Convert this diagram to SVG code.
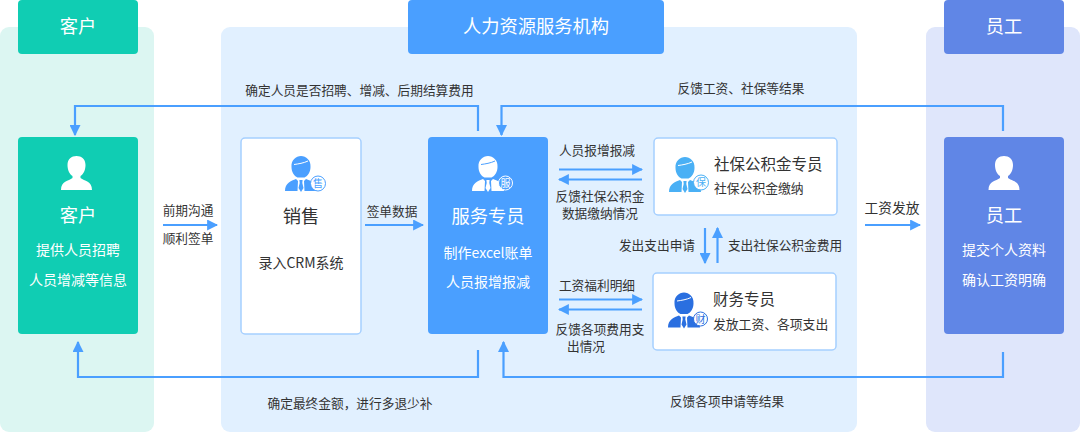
<svg xmlns="http://www.w3.org/2000/svg" xmlns:xlink="http://www.w3.org/1999/xlink" width="1080" height="432" viewBox="0 0 1080 432">
<style>
text{font-family:"Noto Sans CJK SC","Liberation Sans",sans-serif;text-anchor:middle}
.l{font-size:12.700px;fill:#333}
.w14{font-size:14px;fill:#fff}
.w18{font-size:18.300px;fill:#fff}
.c{fill:none;stroke:#4a9fff;stroke-width:2.200}
.t{font-size:15.500px;fill:#333;text-anchor:start}
.s{font-size:12.800px;fill:#333;text-anchor:start}
.b{font-size:10px;text-anchor:middle}
</style>
<defs>
<marker id="a" viewBox="0 0 10 10" refX="9" refY="5" markerWidth="5" markerHeight="5" orient="auto"><path d="M0 0L10 5L0 10z" fill="#4a9fff"/></marker>
<g id="person"><path d="M-9 -14C-9 -20 -5 -23 0 -23C5 -23 9 -20 9 -14C9 -9 7 -5 4 -3V-1C8 2 15.500 2 15.500 11H-15.500C-15.500 2 -8 2 -4 -1V-3C-7 -5 -9 -9 -9 -14z"/></g>
<g id="agent"><path stroke="none" d="M-9.500 -13C-10 -20 -5 -24 0 -24C5 -24 10 -20 9.500 -13C9.500 -8 7 -4 3.500 -2.500H-3.500C-7 -4 -9.500 -8 -9.500 -13z"/><path stroke="none" d="M-16 11C-16 3 -10 1 -5 -1L-3 1L-3.500 11z"/><path stroke="none" d="M16 11C16 3 10 1 5 -1L3 1L3.500 11z"/><path stroke="none" d="M-1.600 0H1.600L1.300 3L2.500 8L0 12L-2.500 8L-1.300 3z"/><path fill="none" stroke-width="1" d="M-7 -15.500C-3 -16 3 -17 7 -19"/></g>
</defs>
<g id="panels">
<rect x="0" y="27" width="154" height="405" rx="9" fill="#dcf6f2"/>
<rect x="221" y="27" width="636" height="405" rx="9" fill="#e1f0ff"/>
<rect x="926" y="27" width="154" height="405" rx="9" fill="#dfe6fb"/>
</g>
<g id="connectors">
<path class="c" marker-end="url(#a)" d="M478 131V106H75V135"/>
<path class="c" marker-end="url(#a)" d="M1003 131V106H501.500V135"/>
<path class="c" marker-end="url(#a)" d="M478 350V377H78V342"/>
<path class="c" marker-end="url(#a)" d="M1003 352V377H503.500V342"/>
<path class="c" marker-end="url(#a)" d="M163 225H217"/>
<path class="c" marker-end="url(#a)" d="M365 225H423"/>
<path class="c" marker-end="url(#a)" d="M559 169.500H642"/>
<path class="c" marker-end="url(#a)" d="M642 179.500H559"/>
<path class="c" marker-end="url(#a)" d="M559 299.500H642"/>
<path class="c" marker-end="url(#a)" d="M642 309.500H559"/>
<path class="c" marker-end="url(#a)" d="M705 228V263"/>
<path class="c" marker-end="url(#a)" d="M717.500 263V228"/>
<path class="c" marker-end="url(#a)" d="M865 225H920"/>
</g>
<g id="header-customer"><rect x="18" y="0" width="120" height="54" rx="4" fill="#10cdb3"/><text class="w18" x="78" y="33">客户</text></g>
<g id="header-agency"><rect x="408" y="0" width="256" height="54" rx="4" fill="#4a9fff"/><text class="w18" x="536" y="33">人力资源服务机构</text></g>
<g id="header-employee"><rect x="944" y="0" width="120" height="54" rx="4" fill="#6086e6"/><text class="w18" x="1004" y="33">员工</text></g>
<g id="node-customer"><rect x="18" y="137" width="120" height="197" rx="4" fill="#10cdb3"/>
<use xlink:href="#person" href="#person" x="76.500" y="179" fill="#fff"/>
<text class="w18" x="78" y="222">客户</text>
<text class="w14" x="78" y="255">提供人员招聘</text><text class="w14" x="78" y="285">人员增减等信息</text></g>
<g id="node-sales"><rect x="241" y="138" width="120" height="196" rx="4" fill="#fff" stroke="#a5cfff" stroke-width="1.500"/>
<use xlink:href="#agent" href="#agent" x="301" y="180" fill="#4a9fff" stroke="#fff"/>
<circle cx="318" cy="183.500" r="7.500" fill="#fff" stroke="#4a9fff"/><text class="b" x="318" y="187" fill="#4a9fff">售</text>
<text x="301" y="223" font-size="18.300" fill="#333">销售</text>
<text x="301" y="268" font-size="14" fill="#333">录入CRM系统</text></g>
<g id="node-service"><rect x="428" y="137" width="120" height="197" rx="4" fill="#4a9fff"/>
<use xlink:href="#agent" href="#agent" x="488" y="180" fill="#fff" stroke="#4a9fff"/>
<circle cx="505.500" cy="183" r="7" fill="#4a9fff" stroke="#fff"/><text class="b" x="505.500" y="186.500" fill="#fff">服</text>
<text class="w18" x="488" y="223">服务专员</text>
<text class="w14" x="488" y="258">制作excel账单</text><text class="w14" x="488" y="287">人员报增报减</text></g>
<g id="node-social"><rect x="654" y="138" width="183" height="77" rx="4" fill="#fff" stroke="#a5cfff" stroke-width="1.500"/>
<use xlink:href="#agent" href="#agent" x="685" y="181" fill="#4ab0f5" stroke="#fff"/>
<circle cx="701" cy="182.500" r="7.500" fill="#fff" stroke="#4ab0f5"/><text class="b" x="701" y="186" fill="#4ab0f5">保</text>
<text class="t" x="714" y="170">社保公积金专员</text><text class="s" x="714" y="193">社保公积金缴纳</text></g>
<g id="node-finance"><rect x="653" y="273" width="183" height="77" rx="4" fill="#fff" stroke="#a5cfff" stroke-width="1.500"/>
<use xlink:href="#agent" href="#agent" x="684" y="316.500" fill="#2a6fe0" stroke="#fff"/>
<circle cx="700.500" cy="319" r="7" fill="#fff" stroke="#2a6fe0"/><text class="b" x="700.500" y="322.500" fill="#2a6fe0">财</text>
<text class="t" x="713" y="305">财务专员</text><text class="s" x="713" y="329">发放工资、各项支出</text></g>
<g id="node-employee"><rect x="944" y="137" width="120" height="197" rx="4" fill="#6086e6"/>
<use xlink:href="#person" href="#person" x="1004" y="179" fill="#fff"/>
<text class="w18" x="1004" y="222">员工</text>
<text class="w14" x="1004" y="255">提交个人资料</text><text class="w14" x="1004" y="285">确认工资明确</text></g>
<g id="labels">
<text class="l" x="359.500" y="95">确定人员是否招聘、增减、后期结算费用</text>
<text class="l" x="741" y="93">反馈工资、社保等结果</text>
<text class="l" x="350" y="408">确定最终金额，进行多退少补</text>
<text class="l" x="727" y="406">反馈各项申请等结果</text>
<text class="l" x="188" y="215">前期沟通</text>
<text class="l" x="188" y="243">顺利签单</text>
<text class="l" x="392" y="216">签单数据</text>
<text class="l" x="597" y="155">人员报增报减</text>
<text class="l" x="600" y="201">反馈社保公积金</text>
<text class="l" x="600" y="218">数据缴纳情况</text>
<text class="l" x="657" y="250">发出支出申请</text>
<text class="l" x="785" y="250">支出社保公积金费用</text>
<text class="l" x="597" y="290">工资福利明细</text>
<text class="l" x="600" y="334">反馈各项费用支</text>
<text class="l" x="586" y="351">出情况</text>
<text x="892" y="213" font-size="13.700" fill="#333">工资发放</text>
</g>
</svg>
